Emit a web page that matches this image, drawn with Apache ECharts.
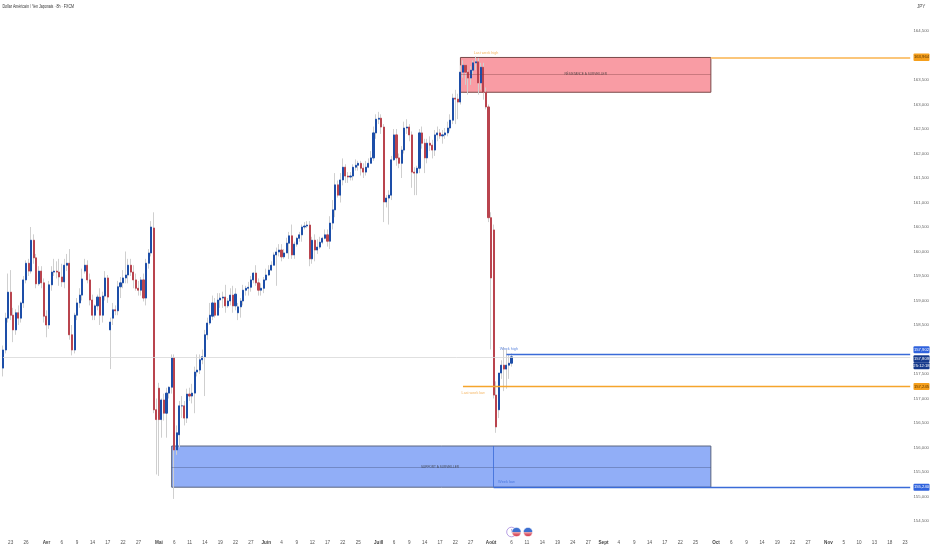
<!DOCTYPE html>
<html><head><meta charset="utf-8">
<style>html,body{margin:0;padding:0;background:#fff}#c{width:932px;height:550px}</style>
<script src="https://cdn.jsdelivr.net/npm/echarts@6/dist/echarts.min.js"></script>
</head><body><div id="c"></div>
<script>
const opens=[157.62,157.99,158.64,159.17,158.70,158.40,158.75,158.64,158.95,159.42,
159.76,159.60,160.23,159.87,159.34,159.60,159.36,158.68,158.50,159.32,
159.58,159.60,159.58,159.48,159.38,159.72,159.76,158.30,157.99,158.70,
158.95,159.11,159.60,159.72,159.42,159.01,158.70,158.89,159.07,158.70,
159.09,159.46,158.40,158.64,158.81,158.79,159.28,159.36,159.46,159.52,
159.72,159.58,159.42,159.25,159.21,159.42,159.05,159.76,159.97,160.48,
156.77,157.21,156.57,156.97,156.70,157.11,157.23,157.83,155.95,156.26,
156.85,156.85,156.60,157.09,157.05,157.11,157.54,157.58,157.79,157.85,
158.30,158.54,158.68,158.95,158.70,159.01,159.05,159.07,158.89,158.99,
159.11,158.89,158.75,158.87,158.99,159.21,159.25,159.27,159.42,159.56,
159.36,159.21,159.25,159.42,159.52,159.62,159.72,159.93,159.99,160.03,
159.89,159.97,160.17,160.32,159.93,160.15,160.27,160.34,160.50,160.52,
160.54,159.85,160.23,160.03,160.09,160.19,160.27,160.34,160.21,160.58,
160.85,161.36,161.15,161.46,161.72,161.54,161.52,161.54,161.72,161.76,
161.80,161.70,161.62,161.72,161.80,161.91,162.42,162.70,162.72,162.54,
161.01,161.09,161.15,161.87,162.38,161.91,161.80,162.07,162.52,162.54,
162.38,161.62,161.60,161.70,162.42,162.21,161.91,162.21,162.17,162.07,
162.38,162.42,162.36,162.38,162.42,162.52,162.68,163.13,163.11,163.05,
163.66,163.80,163.66,163.54,163.70,163.85,163.87,163.44,163.76,163.25,
162.95,160.69,160.44,157.07,156.77,157.52,157.68,157.60,157.68,157.72];
const closes=[157.99,158.64,159.17,158.70,158.40,158.75,158.64,158.95,159.42,159.76,
159.60,160.23,159.87,159.34,159.60,159.36,158.68,158.50,159.32,159.58,
159.60,159.58,159.48,159.38,159.72,159.76,158.30,157.99,158.70,158.95,
159.11,159.44,159.72,159.42,159.01,158.70,158.89,159.07,158.70,159.09,
159.46,159.07,158.56,158.81,158.79,159.28,159.36,159.46,159.52,159.72,
159.58,159.42,159.25,159.21,159.42,159.05,159.76,159.97,160.50,156.77,
156.57,156.57,156.97,156.70,157.11,157.23,157.83,155.95,156.30,156.85,
156.85,156.60,157.09,157.05,157.11,157.54,157.58,157.79,157.85,158.30,
158.54,158.70,158.95,158.70,159.01,159.05,159.07,158.89,158.99,159.11,
158.89,159.13,158.87,158.99,159.21,159.25,159.27,159.42,159.56,159.36,
159.21,159.25,159.42,159.52,159.62,159.72,159.93,159.99,160.03,159.89,
159.97,160.17,160.32,159.93,160.15,160.27,160.34,160.50,160.52,160.54,
159.85,160.23,160.03,160.09,160.19,160.27,160.34,160.21,160.58,160.85,
161.36,161.15,161.46,161.72,161.54,161.52,161.54,161.72,161.76,161.80,
161.70,161.62,161.72,161.80,161.91,162.42,162.70,162.72,162.54,161.01,
161.09,161.15,161.87,162.38,161.91,161.80,162.07,162.52,162.54,162.38,
161.62,161.60,161.70,162.42,162.21,161.91,162.21,162.17,162.07,162.38,
162.42,162.36,162.38,162.42,162.52,162.68,163.13,163.11,163.05,163.66,
163.80,163.66,163.54,163.70,163.85,163.87,163.44,163.76,163.25,162.95,
160.69,159.46,157.07,156.42,157.52,157.68,157.60,157.68,157.72,157.85];
const highs=[158.08,158.75,159.55,159.62,158.85,158.82,158.90,158.98,159.50,159.82,
159.85,160.50,160.35,159.95,159.70,159.70,159.45,158.80,159.40,159.70,
159.85,159.80,159.85,159.75,159.85,159.95,160.05,158.50,158.75,159.05,
159.25,159.65,159.85,159.82,159.55,159.12,158.92,159.12,159.25,159.18,
159.60,159.52,158.65,158.95,158.90,159.40,159.48,159.62,160.00,159.85,
159.85,159.72,159.55,159.40,159.48,159.55,159.85,160.05,160.62,160.80,
157.00,157.32,157.00,157.10,157.22,157.25,157.90,157.90,156.45,156.95,
157.05,156.95,157.20,157.22,157.30,157.65,157.90,157.90,158.00,158.40,
158.65,158.95,159.10,159.05,159.15,159.15,159.18,159.32,159.05,159.25,
159.30,159.25,158.95,159.05,159.32,159.30,159.38,159.50,159.58,159.72,
159.45,159.35,159.48,159.65,159.72,159.80,159.98,160.08,160.15,160.15,
160.05,160.28,160.40,160.55,160.20,160.30,160.40,160.55,160.60,160.62,
160.62,160.30,160.35,160.25,160.30,160.30,160.45,160.45,160.72,161.05,
161.60,161.45,161.60,161.90,161.78,161.62,161.62,161.78,161.88,161.85,
161.85,161.80,161.85,161.90,162.05,162.55,162.80,162.85,162.80,162.60,
161.15,161.25,161.95,162.50,162.50,162.00,162.15,162.65,162.70,162.60,
162.45,161.72,161.75,162.50,162.55,162.30,162.30,162.35,162.28,162.48,
162.55,162.50,162.48,162.52,162.65,162.80,163.22,163.30,163.22,163.80,
163.90,163.82,163.70,163.78,163.90,163.98,163.95,163.85,163.85,163.35,
163.00,160.80,160.55,157.35,157.00,157.78,158.05,158.00,157.90,157.92];
const lows=[157.45,157.92,158.55,158.60,158.15,158.30,158.50,158.55,158.85,159.35,
159.50,159.55,159.75,159.25,159.30,159.25,158.55,158.25,158.42,159.20,
159.50,159.45,159.30,159.28,159.25,159.60,158.20,157.88,157.92,158.60,
158.85,159.00,159.55,159.35,158.90,158.60,158.60,158.80,158.50,158.55,
159.00,158.95,157.60,158.50,158.70,158.70,159.05,159.25,159.35,159.35,
159.50,159.25,159.20,159.10,159.10,158.98,158.90,159.65,159.90,156.70,
155.45,155.42,156.20,156.55,156.20,157.00,157.10,154.95,155.85,156.00,
156.60,156.45,156.50,156.95,156.90,156.70,157.45,157.50,157.70,157.05,
158.20,158.50,158.60,158.65,158.90,158.85,158.85,158.75,158.85,158.90,
158.75,158.80,158.60,158.65,158.90,159.10,159.10,159.18,159.35,159.30,
159.10,159.10,159.15,159.40,159.50,159.60,159.85,159.30,159.90,159.80,
159.85,160.10,159.85,159.85,159.85,160.10,160.20,160.20,160.45,160.48,
159.70,159.75,159.80,159.95,160.05,160.15,160.25,160.10,160.05,160.45,
160.70,161.10,161.00,161.35,161.40,161.40,161.45,161.45,161.65,161.65,
161.55,161.50,161.55,161.70,161.80,161.85,162.30,162.60,162.40,160.60,
160.90,160.55,161.05,161.85,161.75,161.70,161.50,162.00,162.40,162.25,
161.30,161.15,161.15,161.60,162.10,161.60,161.80,162.05,161.90,161.95,
162.25,162.30,162.20,162.30,162.35,162.45,162.60,162.60,162.70,163.00,
163.55,163.40,163.20,163.40,163.60,163.70,163.20,163.30,163.10,162.90,
160.60,158.00,157.00,156.30,156.60,157.40,157.15,157.20,157.40,157.65];

const barSlots=356;
const tickPos=[3,9,17,23,29,35,41,47,53,61,67,73,79,85,91,97,103,109,115,121,127,133,139,147,153,159,165,171,177,183,191,199,205,211,217,223,229,235,241,247,253,259,265,271,279,285,291,297,303,309,315,323,329,335,341,347,353];
const tickText=["23","26","Avr","6","9","14","17","22","27","Mai","6","11","14","19","22","27","Juin","4","9","12","17","22","25","Juill","6","9","14","17","22","27","Août","6","11","14","19","24","27","Sept","4","9","14","17","22","25","Oct","6","9","14","19","22","27","Nov","5","10","13","18","23"];
const monthNames=["Avr","Mai","Juin","Juill","Août","Sept","Oct","Nov"];
const hiddenPriceLabels=[164,158];

const resistanceZone={from:179,to:277,top:163.96,bottom:163.25,mid:163.62};
const supportZone={from:66,to:277,top:156.03,bottom:155.19,mid:155.60};
const levels=[
 {from:277,to:355,value:163.964,color:'#fbc67a',width:2},
 {from:197,to:355,value:157.902,color:'#3a6bd8',width:1.3},
 {from:180,to:355,value:157.245,color:'#f5a52c',width:1.3},
 {from:192,to:355,value:155.19,color:'#3a6bd8',width:1.3},
 {from:0,to:355,value:157.85,color:'#d8d8d8',width:.8}
];
const face='Liberation Sans';
const notes=[
 ['Last week high',189,164.05,'#f2a33a',3.7],
 ['Last week low',184,157.11,'#f2a33a',3.7],
 ['Week high',198,158.01,'#3a6bd8',3.9],
 ['Week low',197,155.30,'#3a6bd8',3.9],
 ['RÉSISTANCE À SURVEILLER',228,163.62,'#333',3.1],
 ['SUPPORT A SURVEILLER',171,155.60,'#333',3.1]
];
const priceTags=[
 {text:'163,964',value:163.964,fill:'#f59f1c',color:'#5a3500',dy:0,h:7.5},
 {text:'157,902',value:157.902,fill:'#2f62dd',color:'#fff',dy:-4.5,h:7},
 {text:'157,809',value:157.809,fill:'#163a8c',color:'#fff',dy:0,h:7},
 {text:'25:12:18',value:157.809,fill:'#163a8c',color:'#fff',dy:7,h:7},
 {text:'157,245',value:157.245,fill:'#f59f1c',color:'#5a3500',dy:0,h:7},
 {text:'155,240',value:155.19,fill:'#2f62dd',color:'#fff',dy:0,h:7}
];

const categories=Array.from({length:barSlots},(_,i)=>{const k=tickPos.indexOf(i);return k<0?'':tickText[k];});
const wickData=opens.map((o,i)=>[o,closes[i],lows[i],highs[i]]);
const bodyData=opens.map((o,i)=>[o,closes[i],Math.min(o,closes[i]),Math.max(o,closes[i])]);
const hLine=(a,b,v,style)=>[{coord:[a,v],lineStyle:style},{coord:[b,v]}];

const chart=echarts.init(document.getElementById('c'),null,{renderer:'canvas'});
chart.setOption({
 animation:false,
 grid:{left:0,top:31,width:912,height:490},
 xAxis:{type:'category',data:categories,boundaryGap:true,axisLine:{show:false},axisTick:{show:false},splitLine:{show:false},
  axisLabel:{interval:0,margin:19,fontSize:4.6,fontFamily:face,color:'#555',
   formatter:v=>monthNames.includes(v)?'{m|'+v+'}':v,rich:{m:{fontSize:4.6,fontWeight:'bold',color:'#444',fontFamily:face}}}},
 yAxis:{type:'value',position:'right',min:154.5,max:164.5,interval:.5,scale:true,axisLine:{show:false},axisTick:{show:false},splitLine:{show:false},
  axisLabel:{margin:2,fontSize:4.3,fontFamily:face,color:'#666',
   formatter:v=>hiddenPriceLabels.includes(v)?'':v.toFixed(3).replace('.',',')}},
 series:[
  {name:'levels',type:'line',data:[],z:1,markLine:{silent:true,symbol:'none',label:{show:false},data:levels.map(l=>hLine(l.from,l.to,l.value,{color:l.color,width:l.width,type:'solid'}))}},
  {name:'wicks',type:'candlestick',data:wickData,barWidth:1,z:2,progressive:0,large:false,
   itemStyle:{color:'#cfcfcf',color0:'#cfcfcf',borderColor:'#cfcfcf',borderColor0:'#cfcfcf',borderWidth:1}},
  {name:'bodies',type:'candlestick',data:bodyData,barWidth:1.6,z:3,progressive:0,large:false,
   itemStyle:{color:'#1d4ea8',color0:'#b9444e',borderColor:'#1d4ea8',borderColor0:'#b9444e',borderWidth:1}},
  {name:'zones',type:'line',data:[],z:5,
   markArea:{silent:true,data:[
    [{coord:[resistanceZone.from,resistanceZone.top],itemStyle:{color:'rgba(243,66,80,.52)',borderColor:'#7a4a4a',borderWidth:1}},{coord:[resistanceZone.to,resistanceZone.bottom]}],
    [{coord:[supportZone.from,supportZone.top],itemStyle:{color:'rgba(45,100,240,.52)',borderColor:'#5a6580',borderWidth:1}},{coord:[supportZone.to,supportZone.bottom]}]
   ]},
   markLine:{silent:true,symbol:'none',label:{show:false},data:[
    hLine(resistanceZone.from,resistanceZone.to,resistanceZone.mid,{color:'rgba(120,60,60,.45)',width:.8,type:'solid'}),
    hLine(supportZone.from,supportZone.to,supportZone.mid,{color:'rgba(60,70,110,.45)',width:.8,type:'solid'}),
    [{coord:[192,supportZone.top],lineStyle:{color:'#3a6bd8',width:.8,type:'solid'}},{coord:[192,supportZone.bottom]}]
   ]}},
  {name:'notes',type:'scatter',z:6,symbolSize:0,silent:true,
   data:notes.map(n=>({value:[n[1],n[2]],name:n[0],label:{show:true,position:'inside',formatter:n[0],fontSize:n[4],color:n[3],fontFamily:face}}))}
 ]
});

const graphics=[
 {type:'text',x:2.5,y:4.5,scaleX:.72,style:{text:'Dollar Américain / Yen Japonais · 8h · FXCM',font:'5px "Liberation Sans"',fill:'#333'}},
 {type:'text',x:917,y:4.5,style:{text:'JPY',font:'4.6px "Liberation Sans"',fill:'#555'}}
];
priceTags.forEach(t=>{
 const y=chart.convertToPixel({yAxisIndex:0},t.value)+t.dy;
 graphics.push({type:'rect',shape:{x:913.5,y:y-t.h/2,width:16,height:t.h,r:1},style:{fill:t.fill},z:20});
 graphics.push({type:'text',x:921.5,y:y,z:21,style:{text:t.text,font:'4.2px "Liberation Sans"',fill:t.color,align:'center',verticalAlign:'middle'}});
});
const flagFill={type:'linear',x:0,y:0,x2:0,y2:1,colorStops:[{offset:0,color:'#3d6fd0'},{offset:.5,color:'#3d6fd0'},{offset:.5,color:'#e8b0b8'},{offset:.8,color:'#d9495a'},{offset:1,color:'#d9495a'}]};
graphics.push({type:'circle',shape:{cx:511.5,cy:532,r:4.8},style:{fill:'#fff',stroke:'#9a78d8',lineWidth:.7},z:20});
graphics.push({type:'text',x:511.5,y:532,z:21,style:{text:'!',font:'5px "Liberation Sans"',fill:'#7a5ac0',align:'center',verticalAlign:'middle'}});
graphics.push({type:'circle',shape:{cx:516.5,cy:532,r:4.6},style:{fill:flagFill,stroke:'#fff',lineWidth:.5},z:22});
graphics.push({type:'circle',shape:{cx:528,cy:532,r:4.6},style:{fill:flagFill,stroke:'#fff',lineWidth:.5},z:22});
chart.setOption({graphic:{elements:graphics}});
</script></body></html>
